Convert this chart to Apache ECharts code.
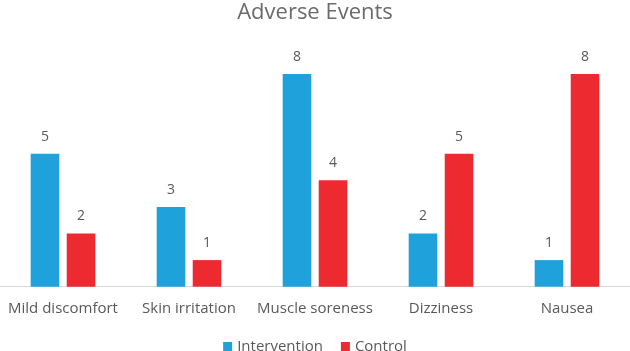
<!DOCTYPE html>
<html>
<head>
<meta charset="utf-8">
<script src="https://cdn.jsdelivr.net/npm/echarts@6/dist/echarts.min.js"></script>
<style>
html,body{margin:0;padding:0;background:#fff;}
#chart{width:630px;height:351px;}
</style>
</head>
<body>
<div id="chart"></div>
<script>
const categories = ["Mild discomfort", "Skin irritation", "Muscle soreness", "Dizziness", "Nausea"];
const intervention = [5, 3, 8, 2, 1];
const control = [2, 1, 4, 5, 8];
const seriesNames = ["Intervention", "Control"];

const FONT = "'Open Sans', sans-serif";
const chart = echarts.init(document.getElementById('chart'), null, {renderer: 'canvas'});
chart.setOption({
  animation: false,
  backgroundColor: '#ffffff',
  title: {
    text: 'Adverse Events',
    left: 'center',
    top: -3,
    textStyle: {fontFamily: FONT, fontSize: 22, fontWeight: 'normal', color: '#6b6b6b'}
  },
  legend: {
    data: seriesNames,
    top: 334,
    left: 'center',
    itemWidth: 9,
    itemHeight: 9,
    itemGap: 18,
    icon: 'rect',
    textStyle: {fontFamily: FONT, fontSize: 15, color: '#595959'}
  },
  grid: {left: 0, right: 0, top: 47.3, bottom: 64.3, containLabel: false},
  xAxis: {
    type: 'category',
    data: categories,
    boundaryGap: true,
    axisLine: {show: true, lineStyle: {color: '#d9d9d9', width: 1}},
    axisTick: {show: false},
    axisLabel: {fontFamily: FONT, fontSize: 15, color: '#595959', margin: 15, interval: 0}
  },
  yAxis: {
    type: 'value',
    min: 0,
    max: 9,
    show: false,
    splitLine: {show: false}
  },
  series: [
    {
      name: seriesNames[0],
      type: 'bar',
      data: intervention,
      barWidth: 28.6,
      barGap: '26%',
      itemStyle: {color: '#1fa2dc'},
      label: {show: true, position: 'top', distance: 10, fontFamily: FONT, fontSize: 14, color: '#595959'}
    },
    {
      name: seriesNames[1],
      type: 'bar',
      data: control,
      barWidth: 28.6,
      barGap: '26%',
      itemStyle: {color: '#ec2a2f'},
      label: {show: true, position: 'top', distance: 10, fontFamily: FONT, fontSize: 14, color: '#595959'}
    }
  ]
});
</script>
</body>
</html>
